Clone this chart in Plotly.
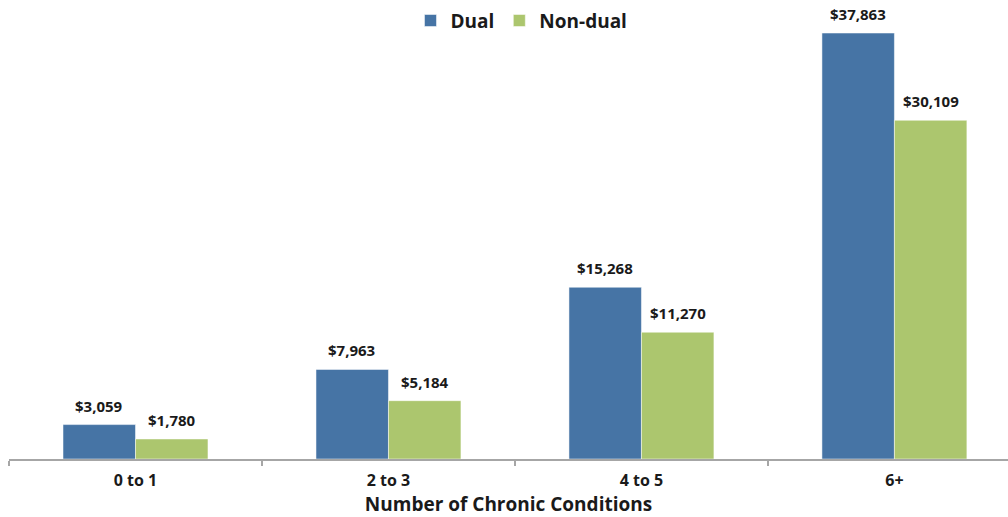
import plotly.graph_objects as go

categories = ["0 to 1", "2 to 3", "4 to 5", "6+"]
dual = [3059, 7963, 15268, 37863]
non_dual = [1780, 5184, 11270, 30109]
series_names = ["Dual", "Non-dual"]

FONT = "Open Sans"
TXT = "#1a1a1a"

def fmt(v):
    return "${:,}".format(v)

fig = go.Figure()
fig.add_trace(go.Bar(
    x=categories, y=dual, name=series_names[0],
    marker=dict(color="#4674A5", line=dict(color="white", width=0.5)),
))
fig.add_trace(go.Bar(
    x=categories, y=non_dual, name=series_names[1],
    marker=dict(color="#ACC66E", line=dict(color="white", width=0.5)),
))

for vals, dx in ((dual, -36.5), (non_dual, 36.5)):
    for c, v in zip(categories, vals):
        fig.add_annotation(
            x=c, y=v, text=fmt(v), showarrow=False,
            xshift=dx, yanchor="bottom", yshift=7,
            font=dict(family=FONT, size=15, color=TXT, weight="bold"),
        )

fig.update_layout(
    width=1008, height=517,
    margin=dict(l=9, r=0, t=0, b=58),
    paper_bgcolor="white", plot_bgcolor="white",
    barmode="group", bargap=0.427, bargroupgap=0,
    font=dict(family=FONT, color=TXT),
    legend=dict(
        orientation="h", x=0.513, xanchor="center", y=0.955, yanchor="middle",
        font=dict(family=FONT, size=19, color=TXT, weight="bold"),
        itemwidth=30, bgcolor="rgba(0,0,0,0)",
    ),
    showlegend=True,
)
fig.update_xaxes(
    type="category", range=[-0.5, 3.449], automargin=False,
    showline=True, linecolor="#A6A6A6", linewidth=2,
    ticks="outside", tickson="boundaries", ticklen=5, tickcolor="#A6A6A6", tickwidth=2,
    ticklabelstandoff=6,
    tickfont=dict(family=FONT, size=16, color=TXT, weight="bold"),
    title=dict(text="Number of Chronic Conditions", font=dict(family=FONT, size=19, color=TXT, weight="bold"), standoff=18),
    showgrid=False,
)
fig.update_yaxes(range=[0, 40800], visible=False, showgrid=False, automargin=False)

fig.write_html("out.html", config={"displayModeBar": False},
               post_script="document.body.style.margin='0px';")
